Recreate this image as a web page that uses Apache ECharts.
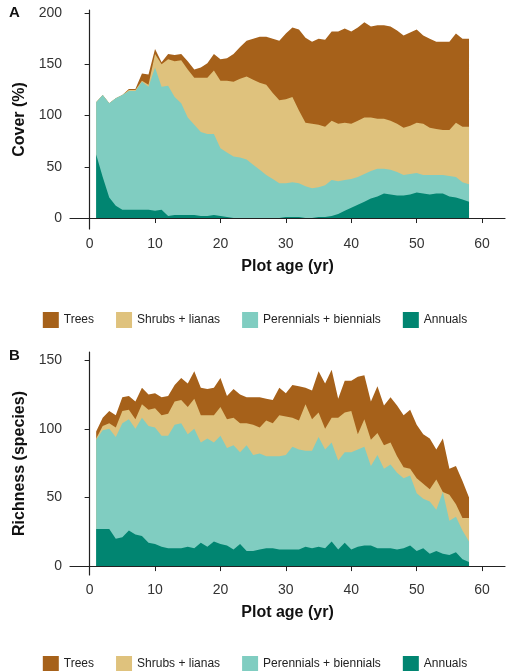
<!DOCTYPE html>
<html><head><meta charset="utf-8">
<script src="https://cdn.jsdelivr.net/npm/echarts@6/dist/echarts.min.js"></script>
<style>html,body{margin:0;padding:0;background:#fff}#c{width:510px;height:671px}</style>
</head><body><div id="c"></div>
<script>
// Plot ages 1..58
const ages = Array.from({length:58},(_,i)=>i+1);
const xTicks = [0,10,20,30,40,50,60];
const coverTicks = [0,50,100,150,200];
const richTicks = [0,50,100,150];
const names = ['Trees','Shrubs + lianas','Perennials + biennials','Annuals'];
// Panel A: cumulative top of each layer (cover %)
const coverAnnualsTop = [62,40,20,12,8,8,8,8,8,7,8,2,3,3,3,3,2,2,3,2,1,0,0,0,0,0,0,0,0,1,1,1,0,0,1,1,2,4,7,10,13,16,19,21,24,23,22,22,23,25,24,23,24,24,21,20,18,16];
const coverPerennialsTop = [113,120,112,117,120,124,124,133,128,147,128,129,118,112,98,91,84,82,82,68,64,60,59,57,52,47,42,38,34,34,35,34,31,29,30,32,37,36,37,38,40,43,46,48,48,47,45,42,43,44,42,42,42,42,41,40,35,33];
const coverShrubsTop = [113,120,112,117,120,125,125,134,130,160,150,155,153,154,145,137,137,137,144,134,134,133,136,138,135,132,130,122,115,116,118,105,93,92,91,89,95,92,93,92,95,98,98,97,97,95,92,88,90,93,92,88,87,86,86,93,89,89];
const coverTreesTop = [113,120,112,117,120,126,126,141,140,165,152,160,159,160,153,145,147,151,160,155,156,160,167,173,175,177,177,175,173,180,186,184,176,172,175,174,182,182,185,182,186,191,187,188,188,187,183,178,181,184,178,175,172,172,172,180,175,175];
// Panel B: cumulative top of each layer (species)
const richAnnualsTop = [27,27,27,20,21,26,23,22,17,16,14,13,13,13,14,13,17,14,18,16,15,12,16,11,11,12,13,13,12,12,12,12,14,13,14,13,18,12,17,12,14,15,15,13,13,13,12,13,15,11,13,9,11,9,8,10,5,3];
const richPerennialsTop = [92,99,100,94,104,107,100,108,102,101,95,95,103,104,96,100,90,93,90,95,86,88,83,88,81,82,80,80,80,81,87,85,84,84,94,85,90,77,83,83,85,87,73,81,71,74,68,64,66,53,49,47,41,54,33,36,26,18];
const richShrubsTop = [93,102,104,101,113,114,107,118,114,115,110,111,120,121,116,122,110,110,110,116,107,108,104,104,103,101,106,104,110,109,108,106,118,107,112,100,108,108,112,113,96,107,92,97,88,90,80,72,71,64,60,56,63,54,52,45,35,35];
const richTreesTop = [98,108,113,110,123,124,120,130,125,126,123,124,132,137,133,142,130,129,130,137,124,129,125,123,123,123,122,121,130,126,132,131,130,128,142,133,143,122,135,135,138,139,120,131,117,123,117,110,114,103,96,93,85,93,71,73,62,50];

const colors = {'Trees':'#A6611A','Shrubs + lianas':'#DFC27D','Perennials + biennials':'#80CDC1','Annuals':'#018571'};
function pts(top){ return ages.map((a,i)=>[a, top[i]]); }
function mk(idx, tops){
  const [an,pe,sh,tr]=tops;
  // drawn back to front: the cumulative top of each layer fills down to zero, upper layers first
  const L = [['Trees',tr],['Shrubs + lianas',sh],['Perennials + biennials',pe],['Annuals',an]];
  return L.map(([n,d],k)=>({name:n,type:'line',xAxisIndex:idx,yAxisIndex:idx,data:pts(d),showSymbol:false,z:2+k,
    lineStyle:{width:0},areaStyle:{color:colors[n],opacity:1,origin:0},itemStyle:{color:colors[n]},emphasis:{disabled:true},silent:true}));
}
const axisCommon = {axisLine:{show:true,lineStyle:{color:'#222',width:1.2}},axisTick:{show:true,length:5,lineStyle:{color:'#222'}},
  axisLabel:{color:'#333',fontSize:14,fontFamily:'Liberation Sans'},splitLine:{show:false}};
function xa(i){return Object.assign({},axisCommon,{gridIndex:i,type:'value',min:-3,max:63.5,
  axisLabel:Object.assign({},axisCommon.axisLabel,{customValues:xTicks}),axisTick:Object.assign({},axisCommon.axisTick,{customValues:xTicks}),
  name:'Plot age (yr)',nameLocation:'middle',nameGap:30,nameTextStyle:{fontSize:16,fontWeight:'bold',color:'#111',fontFamily:'Liberation Sans'}});}
function ya(i,min,max,ticks,name){return Object.assign({},axisCommon,{gridIndex:i,type:'value',min:min,max:max,
  axisLabel:Object.assign({},axisCommon.axisLabel,{customValues:ticks}),axisTick:Object.assign({},axisCommon.axisTick,{customValues:ticks}),
  name:name,nameLocation:'middle',nameGap:38,nameTextStyle:{fontSize:16,fontWeight:'bold',color:'#111',fontFamily:'Liberation Sans'}});}
const chart = echarts.init(document.getElementById('c'),null,{renderer:'canvas'});
const legendCommon = {data:names,icon:'rect',itemWidth:16,itemHeight:16,itemGap:22,textStyle:{fontSize:12,color:'#222',fontFamily:'Liberation Sans'},selectedMode:false};
chart.setOption({
  animation:false,
  title:[{text:'A',left:4,top:0,textStyle:{fontSize:15,fontWeight:'bold',color:'#111'}},
         {text:'B',left:4,top:343,textStyle:{fontSize:15,fontWeight:'bold',color:'#111'}}],
  legend:[Object.assign({top:307,left:'center'},legendCommon),Object.assign({top:651,left:'center'},legendCommon)],
  grid:[{left:70,top:10,width:435,height:219},{left:70,top:352,width:435,height:223}],
  xAxis:[xa(0),xa(1)],
  yAxis:[ya(0,-10.7,203,coverTicks,'Cover (%)'),ya(1,-6.5,156,richTicks,'Richness (species)')],
  series:[...mk(0,[coverAnnualsTop,coverPerennialsTop,coverShrubsTop,coverTreesTop]),
          ...mk(1,[richAnnualsTop,richPerennialsTop,richShrubsTop,richTreesTop])]
});
</script></body></html>
